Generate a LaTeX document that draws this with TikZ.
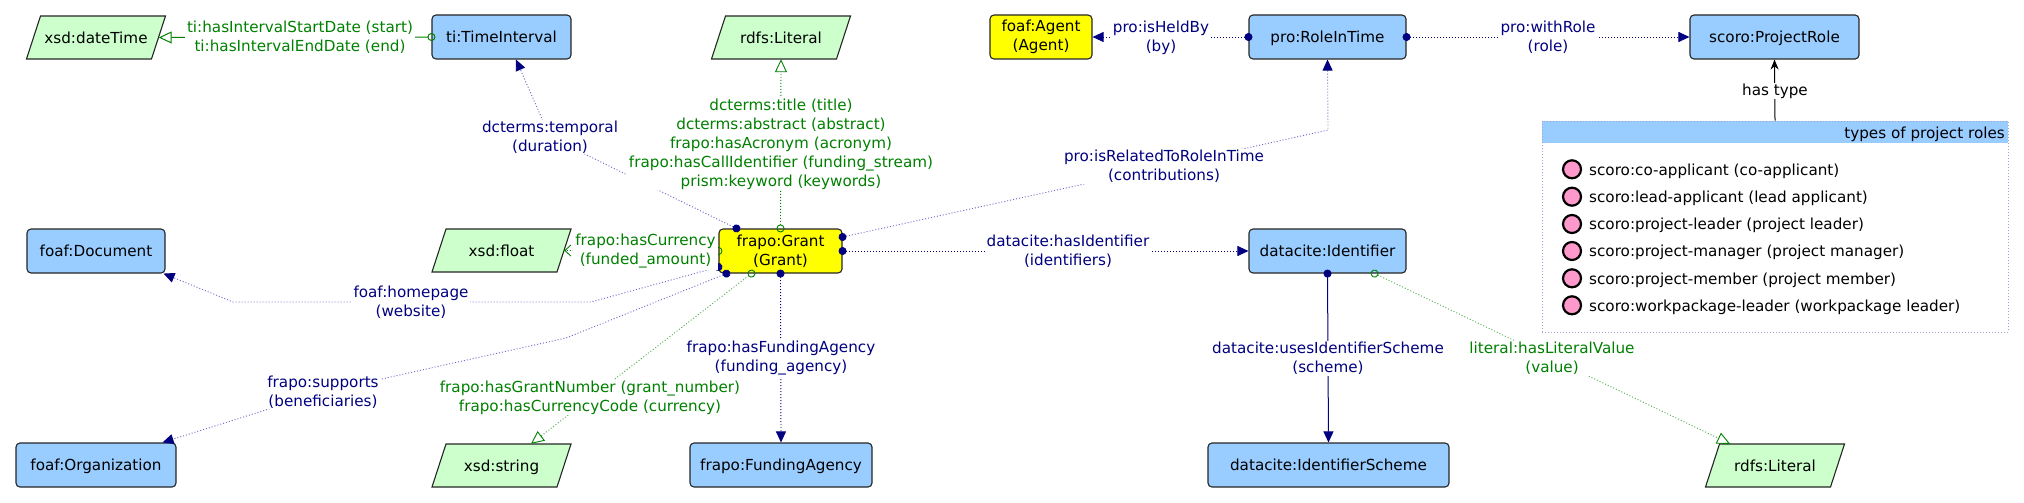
\documentclass[tikz,border=0pt]{standalone}
\usepackage{fontspec}
\setmainfont{DejaVu Sans}
\usetikzlibrary{arrows.meta}
\definecolor{boxblue}{HTML}{99CCFF}
\definecolor{litgreen}{HTML}{CCFFCC}
\definecolor{agentyellow}{HTML}{FFFF00}
\definecolor{navyc}{HTML}{000080}
\definecolor{navylight}{HTML}{6A6AC8}
\definecolor{greenc}{HTML}{008000}
\definecolor{greenlight}{HTML}{4FAF4F}
\definecolor{pinkc}{HTML}{FF99CC}
\definecolor{frameblue}{HTML}{A0A0CC}
\tikzset{
  tipnavy/.tip={Triangle[length=11pt,width=10pt,color=navyc]},
  tipopen/.tip={Triangle[open,length=13pt,width=12pt,color=greenc]},
  tipbarb/.tip={Straight Barb[length=6pt,width=11pt,color=greenc]},
  dotS/.tip={Circle[length=8pt,color=navyc]},
  ringS/.tip={Circle[open,length=8pt,color=greenc]},
}
\newcommand\litnode[3]{%
  \path[litpara] (#2) ++(-69.5,21.5) -- ++(125,0) -- ++(14,-43) -- ++(-125,0) -- cycle;
  \node[littext] (#1) at (#2) {#3};}
\begin{document}
\begin{tikzpicture}[x=1pt,y=-1pt,
  every node/.style={font=\fontsize{15.2}{19}\selectfont},
  cls/.style={rectangle, rounded corners=4pt, draw=black!85, line width=1.1pt, fill=boxblue, minimum height=44pt, inner sep=0pt, text height=11.5pt, text depth=0pt},
  agentcls/.style={rectangle, rounded corners=4pt, draw=black!85, line width=1.1pt, fill=agentyellow, minimum height=44pt, inner sep=0pt, align=center},
  litpara/.style={fill=litgreen, draw=black!85, line width=1.1pt},
  littext/.style={rectangle, minimum width=125pt, minimum height=43pt, inner sep=0pt, text height=11.5pt, text depth=0pt},
  elab/.style={fill=white, inner xsep=2pt, inner ysep=1pt, align=center},
  nlab/.style={elab, text=navyc},
  glab/.style={elab, text=greenc},
  dn/.style={navyc, line width=0.9pt, dash pattern=on 1pt off 2pt},
  dnl/.style={navylight, line width=0.9pt, dash pattern=on 1pt off 2pt},
  dg/.style={greenc, line width=0.9pt, dash pattern=on 1pt off 2pt},
  dgl/.style={greenlight, line width=0.9pt, dash pattern=on 1pt off 2pt},
  sg/.style={greenc, line width=1pt},
  sn/.style={navyc, line width=1pt},
  cen/.style={shorten <=-4pt},
  roledot/.style={circle, fill=pinkc, draw=black, line width=2.2pt, minimum size=18pt, inner sep=0pt},
  roletext/.style={anchor=west, inner sep=0pt, text height=11.5pt, text depth=0pt},
]
\useasboundingbox (0,0) rectangle (2024,503);
\fill[white] (0,0) rectangle (2024,503);

% classes and literals
\litnode{dt}{96,37.5}{xsd:dateTime}
\node[cls, minimum width=139pt] (ti) at (501.5,37) {ti:TimeInterval};
\litnode{lita}{781,37.5}{rdfs:Literal}
\node[agentcls, minimum width=102pt] (agent) at (1041,37) {foaf:Agent\\(Agent)};
\node[cls, minimum width=157pt] (role) at (1327.5,37) {pro:RoleInTime};
\node[cls, minimum width=169pt] (prole) at (1774.5,37) {scoro:ProjectRole};
\node[cls, minimum width=138pt] (doc) at (96,251) {foaf:Document};
\litnode{flt}{501.5,250.5}{xsd:float}
\node[agentcls, minimum width=123pt] (grant) at (780.5,251) {frapo:Grant\\(Grant)};
\node[cls, minimum width=157pt] (ident) at (1327.5,251) {datacite:Identifier};
\node[cls, minimum width=160pt] (org) at (96,465) {foaf:Organization};
\litnode{str}{501.5,465.5}{xsd:string}
\node[cls, minimum width=182pt] (fa) at (781,465) {frapo:FundingAgency};
\node[cls, minimum width=241pt] (scheme) at (1328.5,465) {datacite:IdentifierScheme};
\litnode{litb}{1775,465.5}{rdfs:Literal}

% types of project roles
\fill[boxblue] (1542,121) rectangle (2008,143);
\node[draw=frameblue, line width=0.8pt, dash pattern=on 1pt off 2pt, rectangle, minimum width=466pt, minimum height=211pt, inner sep=0pt] (types) at (1775,226.5) {};
\node[anchor=east, inner sep=0pt, text height=11.5pt, text depth=0pt] (typeshead) at (2005,132.7) {types of project roles};
\node[roledot] (d1) at (1572,169.3) {};
\node[roletext] (r1) at (1589,169.3) {scoro:co-applicant (co-applicant)};
\node[roledot] (d2) at (1572,196.7) {};
\node[roletext] (r2) at (1589,196.7) {scoro:lead-applicant (lead applicant)};
\node[roledot] (d3) at (1572,224) {};
\node[roletext] (r3) at (1589,224) {scoro:project-leader (project leader)};
\node[roledot] (d4) at (1572,251) {};
\node[roletext] (r4) at (1589,251) {scoro:project-manager (project manager)};
\node[roledot] (d5) at (1572,278.3) {};
\node[roletext] (r5) at (1589,278.3) {scoro:project-member (project member)};
\node[roledot] (d6) at (1572,305.3) {};
\node[roletext] (r6) at (1589,305.3) {scoro:workpackage-leader (workpackage leader)};

% bend points
\coordinate (tempc) at (550,137);
\coordinate (relc) at (1164,166.5);
\coordinate (relb) at (1328,130);
\coordinate (hpa) at (591,302);
\coordinate (hpb) at (233,302);
\coordinate (supa) at (566,338);
\coordinate (supc) at (323,392);

% connectors
\draw[sg, ringS-tipopen, cen] (ti.west) -- (dt.east);
\draw[dnl, dotS-tipnavy, cen] ([xshift=18pt]grant.north west) -- (tempc) -- ([xshift=14.5pt]ti.south);
\draw[dg, ringS-tipopen, cen] (grant.north) -- (lita.south);
\draw[dnl, dotS-tipnavy, cen] ([yshift=14pt]grant.east) -- (relc) -- (relb) -- (role.south);
\draw[dn, dotS-tipnavy, cen] (grant.east) -- (ident.west);
\draw[dn, dotS-tipnavy, cen] (grant.south) -- (fa.north);
\draw[dgl, ringS-tipopen, cen] ([xshift=33pt]grant.south west) -- ([xshift=29.5pt]str.north);
\draw[dg, ringS-tipbarb, cen] (grant.west) -- (flt.east);
\draw[dnl, dotS-tipnavy, cen] ([yshift=-16pt]grant.west) -- (hpa) -- (hpb) -- ([xshift=-2pt]doc.south east);
\draw[dnl, dotS-tipnavy, cen] ([xshift=8pt]grant.south west) -- (supa) -- (supc) -- ([xshift=-14pt]org.north east);
\draw[dn, dotS-tipnavy, cen] (role.west) -- (agent.east);
\draw[dn, dotS-tipnavy, cen] (role.east) -- (prole.west);
\draw[sn, dotS-tipnavy, cen] (ident.south) -- (scheme.north);
\draw[dgl, ringS-tipopen, cen] ([xshift=-32pt]ident.south east) -- ([xshift=-45pt]litb.north);
\draw[black, line width=1pt, -{Stealth[length=10pt,width=8pt]}] (types.north) -- (prole.south);

% connector labels
\node[glab] (l1) at (300,37.5) {ti:hasIntervalStartDate (start)\\ti:hasIntervalEndDate (end)};
\node[nlab] (l2) at (tempc) {dcterms:temporal\\(duration)};
\node[glab] (l3) at (781,144) {dcterms:title (title)\\dcterms:abstract (abstract)\\frapo:hasAcronym (acronym)\\frapo:hasCallIdentifier (funding\_stream)\\prism:keyword (keywords)};
\node[nlab] (l4) at (relc) {pro:isRelatedToRoleInTime\\(contributions)};
\node[nlab] (l5) at (1068,251.5) {datacite:hasIdentifier\\(identifiers)};
\node[nlab] (l6) at (781,358.5) {frapo:hasFundingAgency\\(funding\_agency)};
\node[glab] (l7) at (590,397.5) {frapo:hasGrantNumber (grant\_number)\\frapo:hasCurrencyCode (currency)};
\node[glab] (l8) at (645.5,251.5) {frapo:hasCurrency\\(funded\_amount)};
\node[nlab] (l9) at (411,302.5) {foaf:homepage\\(website)};
\node[nlab] (l10) at (supc) {frapo:supports\\(beneficiaries)};
\node[nlab] (l11) at (1161,37.5) {pro:isHeldBy\\(by)};
\node[nlab] (l12) at (1548,37.5) {pro:withRole\\(role)};
\node[nlab] (l13) at (1328,358.5) {datacite:usesIdentifierScheme\\(scheme)};
\node[glab] (l14) at (1552,358.5) {literal:hasLiteralValue\\(value)};
\node[elab] (l15) at (1775,91) {has type};
\end{tikzpicture}
\end{document}
